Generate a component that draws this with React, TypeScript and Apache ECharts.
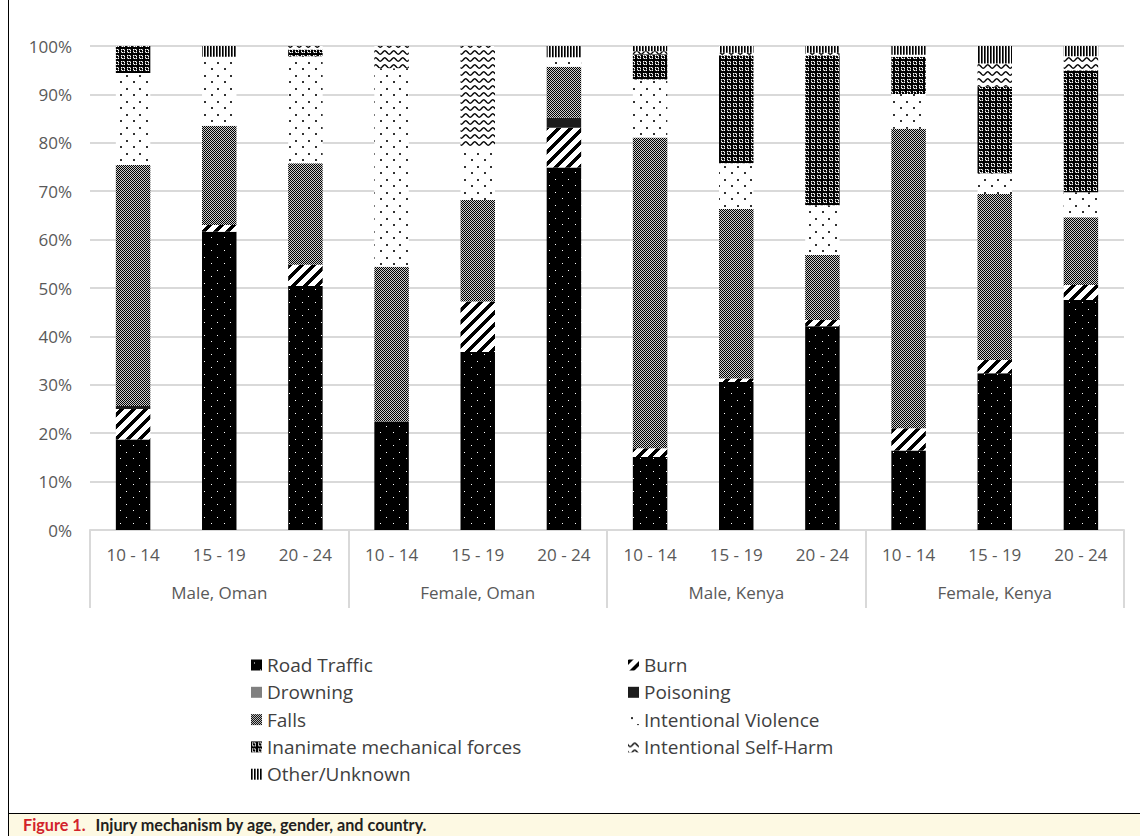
import React, { useEffect, useRef } from "react";
import * as echarts from "echarts";

const ageGroups = ["10 - 14", "15 - 19", "20 - 24", "10 - 14", "15 - 19", "20 - 24", "10 - 14", "15 - 19", "20 - 24", "10 - 14", "15 - 19", "20 - 24"];
const populationGroups = ["Male, Oman", "Female, Oman", "Male, Kenya", "Female, Kenya"];

const roadTraffic = [18.7, 61.6, 50.4, 22.4, 36.8, 74.9, 15.1, 30.6, 42.1, 16.4, 32.4, 47.5];
const burn = [6.3, 1.4, 4.4, 0, 10.4, 8.2, 1.8, 0.7, 1.3, 4.6, 2.7, 3.1];
const drowning = [0, 0, 0, 0, 0, 0, 0, 0, 0, 0, 0, 0];
const poisoning = [0.6, 0, 0, 0, 0, 2.1, 0, 0, 0, 0, 0, 0];
const falls = [49.8, 20.5, 21.0, 32.0, 21.0, 10.5, 64.2, 35.0, 13.4, 61.9, 34.3, 14.0];
const intentionalViolence = [19.0, 14.3, 22.1, 41.0, 10.7, 2.0, 12.0, 9.5, 10.3, 7.2, 4.3, 5.2];
const inanimateForces = [5.6, 0, 1.4, 0, 0, 0, 5.2, 22.3, 31.0, 7.7, 17.9, 25.2];
const selfHarm = [0, 0, 0.7, 4.6, 21.1, 0, 0.6, 0.5, 0.5, 0.4, 4.8, 2.9];
const otherUnknown = [0, 2.2, 0, 0, 0, 2.3, 1.1, 1.4, 1.4, 1.8, 3.6, 2.1];

const seriesNames = ["Road Traffic", "Burn", "Drowning", "Poisoning", "Falls", "Intentional Violence", "Inanimate mechanical forces", "Intentional Self-Harm", "Other/Unknown"];
const seriesValues = [roadTraffic, burn, drowning, poisoning, falls, intentionalViolence, inanimateForces, selfHarm, otherUnknown];
const leftLegend = ["Road Traffic", "Drowning", "Falls", "Inanimate mechanical forces", "Other/Unknown"];
const rightLegend = ["Burn", "Poisoning", "Intentional Violence", "Intentional Self-Harm"];

function pixelTile(w: number, h: number, fn: (x: number, y: number) => number) {
  const c = document.createElement("canvas");
  c.width = w;
  c.height = h;
  const ctx = c.getContext("2d") as CanvasRenderingContext2D;
  const img = ctx.createImageData(w, h);
  for (let y = 0; y < h; y++) {
    for (let x = 0; x < w; x++) {
      const g = fn(x, y);
      const i = (y * w + x) * 4;
      img.data[i] = g;
      img.data[i + 1] = g;
      img.data[i + 2] = g;
      img.data[i + 3] = 255;
    }
  }
  ctx.putImageData(img, 0, 0);
  return { image: c.toDataURL("image/png"), repeat: "repeat", imageWidth: w, imageHeight: h };
}

function drawTile(w: number, h: number, draw: (ctx: CanvasRenderingContext2D) => void) {
  const c = document.createElement("canvas");
  c.width = w;
  c.height = h;
  const ctx = c.getContext("2d") as CanvasRenderingContext2D;
  draw(ctx);
  return { image: c.toDataURL("image/png"), repeat: "repeat", imageWidth: w, imageHeight: h };
}

function makePatterns(): any[] {
  const road = pixelTile(13, 13, (x, y) => ((x === 3 && y === 3) || (x === 9 && y === 10) ? 255 : 0));
  const burnP = pixelTile(12, 12, (x, y) => ((x + y) % 12 < 5 ? 0 : 255));
  const drown = "#808080";
  const poison = "#1c1c1c";
  const fallsP = pixelTile(2, 2, (x, y) => ((x + y) % 2 === 0 ? 0 : 205));
  const violence = pixelTile(13, 13, (x, y) =>
    (x >= 3 && x <= 4 && y >= 3 && y <= 4) || (x >= 9 && x <= 10 && y >= 10 && y <= 11) ? 50 : 255
  );
  const inanimate = pixelTile(6, 6, (x, y) => {
    const d1 = Math.hypot(x + 0.5 - 3, y + 0.5 - 3);
    return d1 > 1.3 && d1 < 2.3 && (x + y) % 2 === 0 ? 255 : (x + y) % 2 === 1 && d1 > 1.3 && d1 < 2.3 ? 120 : 0;
  });
  const self = drawTile(9, 7, (ctx) => {
    ctx.fillStyle = "#fff";
    ctx.fillRect(0, 0, 9, 7);
    ctx.strokeStyle = "#000";
    ctx.lineWidth = 1.4;
    ctx.beginPath();
    for (let x = -1; x <= 10; x += 0.25) {
      const y = 3.5 + 1.7 * Math.sin((2 * Math.PI * x) / 9);
      if (x === -1) ctx.moveTo(x, y);
      else ctx.lineTo(x, y);
    }
    ctx.stroke();
  });
  const other = pixelTile(3, 3, (x) => (x === 0 ? 0 : x === 1 ? 90 : 255));
  return [road, burnP, drown, poison, fallsP, violence, inanimate, self, other];
}

const FONT = "'Open Sans', sans-serif";

export default function App() {
  const ref = useRef<HTMLDivElement>(null);

  useEffect(() => {
    if (!ref.current) return;
    const chart = echarts.init(ref.current, undefined, { renderer: "svg" });
    const patterns = makePatterns();
    const legendBase = {
      orient: "vertical",
      top: 650,
      itemWidth: 11,
      itemHeight: 11,
      itemGap: 7.3,
      selectedMode: false,
      icon: "rect",
      textStyle: { fontFamily: FONT, fontSize: 19, color: "#404040", lineHeight: 20 },
    };
    const option: any = {
      animation: false,
      textStyle: { fontFamily: FONT },
      grid: { left: 90, right: 16, top: 46, bottom: 283, containLabel: false },
      legend: [
        { ...legendBase, left: 246, data: leftLegend },
        { ...legendBase, left: 623, data: rightLegend },
      ],
      xAxis: [
        {
          type: "category",
          data: ageGroups,
          position: "bottom",
          axisLine: { show: true, lineStyle: { color: "#d9d9d9", width: 2 } },
          axisTick: { show: false },
          axisLabel: { interval: 0, fontSize: 17, color: "#595959", margin: 16, fontFamily: FONT },
          splitLine: { show: false },
        },
        {
          type: "category",
          data: populationGroups,
          position: "bottom",
          offset: 0,
          axisLine: { show: false },
          axisTick: { show: true, length: 78, interval: 0, lineStyle: { color: "#d9d9d9", width: 2 } },
          axisLabel: { interval: 0, fontSize: 17, color: "#595959", margin: 54, fontFamily: FONT },
          splitLine: { show: false },
        },
      ],
      yAxis: {
        type: "value",
        min: 0,
        max: 100,
        interval: 10,
        axisLine: { show: false },
        axisTick: { show: false },
        axisLabel: { formatter: "{value}%", fontSize: 17, color: "#595959", margin: 18, fontFamily: FONT },
        splitLine: { lineStyle: { color: "#d9d9d9", width: 2 } },
      },
      series: seriesNames.map((name, i) => ({
        name,
        type: "bar",
        stack: "total",
        xAxisIndex: 0,
        barWidth: "40%",
        data: seriesValues[i],
        itemStyle: { color: patterns[i] },
        emphasis: { disabled: true },
      })),
    };
    chart.setOption(option);
    return () => chart.dispose();
  }, []);

  return (
    <div style={{ position: "fixed", left: 0, top: 0, width: 1140, height: 836, background: "#fff", overflow: "hidden" }}>
      <div ref={ref} style={{ position: "absolute", left: 0, top: 0, width: 1140, height: 813 }} />
      <div style={{ position: "absolute", left: 8, top: 0, width: 1, height: 836, background: "#000" }} />
      <div style={{ position: "absolute", left: 8, top: 813, width: 1132, height: 1, background: "#000" }} />
      <div
        style={{
          position: "absolute",
          left: 9,
          top: 814,
          width: 1131,
          height: 22,
          background: "#fdf9e3",
          fontFamily: "Lato, sans-serif",
          fontWeight: 700,
          fontSize: 16.2,
          lineHeight: "22px",
          whiteSpace: "nowrap",
        }}
      >
        <span style={{ marginLeft: 14, color: "#d2232a" }}>Figure 1.</span>
        <span style={{ marginLeft: 10, color: "#231f20" }}>Injury mechanism by age, gender, and country.</span>
      </div>
    </div>
  );
}
